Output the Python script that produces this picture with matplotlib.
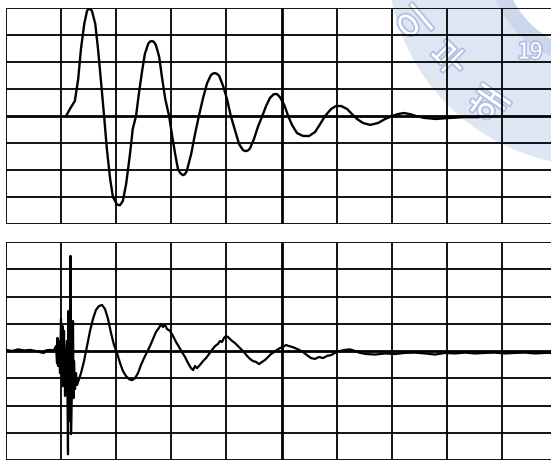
import matplotlib
matplotlib.use("Agg")
import matplotlib.pyplot as plt
from matplotlib.patches import Wedge
import matplotlib.patheffects as pe

plt.rcParams['font.family'] = ['Noto Sans CJK KR', 'DejaVu Sans']

# time in tenths of a division, amplitude in divisions
t_top = [10.9, 11.6, 12.5, 13.1, 13.6, 14.2, 14.7, 14.9, 15.1, 15.35, 15.6, 16.2, 16.7, 17.2, 17.8,
         18.3, 18.9, 19.4, 20.1, 20.4, 20.7, 21.2, 21.8, 22.5, 23.0, 23.6, 24.1, 24.7, 25.2,
         25.8, 26.1, 26.5, 26.85, 27.2, 27.8, 28.3, 28.9, 29.6, 30.1, 30.7, 31.2, 31.6, 32.1,
         32.45, 32.8, 33.6, 34.3, 35.0, 35.8, 36.5, 37.2, 37.55, 37.9, 38.3, 38.7, 39.4, 40.1,
         40.8, 41.6, 42.3, 43.0, 43.3, 43.6, 43.95, 44.3, 45.0, 45.7, 46.5, 47.2, 47.9, 48.6,
         49.2, 49.7, 50.5, 51.2, 51.9, 52.8, 53.9, 55.0, 56.1, 57.0, 57.9, 59.0, 59.9, 60.8,
         61.9, 62.8, 63.7, 64.8, 66.1, 67.5, 68.8, 70.1, 71.1, 72.2, 73.3, 74.4, 75.9, 78.0,
         80.6, 83.3, 85.7]
v_top = [0.0, 0.26, 0.56, 1.37, 2.48, 3.41, 3.89, 3.95, 3.97, 3.95, 3.89, 3.41, 2.48, 1.37, 0.0,
         -1.22, -2.33, -3.0, -3.26, -3.30, -3.30, -3.15, -2.52, -1.41, -0.48, 0.0, 0.81, 1.67, 2.30,
         2.67, 2.75, 2.78, 2.74, 2.63, 2.19, 1.44, 0.63, 0.0, -0.67, -1.41, -1.96, -2.11, -2.19,
         -2.16, -2.04, -1.41, -0.67, 0.0, 0.70, 1.22, 1.52, 1.57, 1.59, 1.56, 1.48, 1.11, 0.63,
         0.0, -0.56, -1.04, -1.26, -1.29, -1.30, -1.27, -1.19, -0.85, -0.41, 0.0, 0.37, 0.67, 0.81,
         0.81, 0.70, 0.41, 0.0, -0.33, -0.63, -0.74, -0.74, -0.59, -0.30, 0.0, 0.26, 0.37, 0.37,
         0.26, 0.07, -0.11, -0.26, -0.33, -0.26, -0.11, 0.0, 0.07, 0.11, 0.07, 0.0, -0.07, -0.11,
         -0.07, -0.04, -0.04]

t_bot = [0.0, 1.1, 2.2, 3.3, 4.4, 5.4, 6.5, 6.9, 7.2, 8.0, 8.7,
         9.07, 9.26, 9.35, 9.44, 9.62, 9.80, 9.98, 10.16, 10.25, 10.34, 10.53, 10.71, 10.89,
         11.07, 11.25, 11.34, 11.43, 11.62, 11.71, 11.80, 11.98, 12.16, 12.25, 12.34, 12.52,
         12.70, 12.89, 13.25, 13.61, 14.16, 14.70, 15.25, 15.79, 16.33, 16.88, 17.42, 17.97,
         18.51, 19.06, 19.60, 20.15, 20.69, 21.23, 21.78, 22.32, 22.87, 23.41, 23.96, 24.50,
         25.05, 25.59, 26.13, 26.68, 27.22, 27.77, 28.13, 28.49, 28.86, 29.22, 29.76, 30.31,
         30.85, 31.40, 31.94, 32.49, 33.03, 33.58, 33.94, 34.30, 34.66, 35.21, 35.75, 36.30,
         36.84, 37.39, 37.93, 38.48, 38.84, 39.20, 39.56, 39.93, 40.29, 40.65, 41.02, 41.56,
         42.11, 42.65, 43.19, 43.74, 44.28, 44.83, 45.37, 45.92, 46.46, 47.01, 47.55, 48.09,
         48.64, 49.18, 49.73, 50.27, 50.82, 51.36, 51.91, 52.45, 53.18, 53.90, 54.63, 55.35,
         56.08, 56.81, 57.53, 58.26, 58.98, 59.71, 60.62, 61.52, 62.43, 63.34, 64.25, 65.34,
         66.97, 68.78, 70.60, 72.41, 74.23, 76.04, 77.86, 79.67, 81.49, 83.30, 85.12, 86.93,
         88.75, 90.56, 92.38, 94.19, 96.01, 97.82, 98.9]
v_bot = [0.04, 0.0, 0.06, 0.02, 0.04, 0.0, -0.06, -0.07, 0.02, 0.04, 0.02,
         0.18, -0.44, 0.48, -0.55, 0.37, -0.81, 1.18, -1.03, 0.92, -1.29, 0.74, -1.65, -0.37,
         0.37, -3.79, 1.47, -2.57, -1.84, 3.49, -3.05, -1.10, 1.10, -1.73, -0.37, -1.40,
         -0.81, -1.25, -1.03, -0.81, -0.37, 0.18, 0.74, 1.18, 1.51, 1.65, 1.69, 1.54,
         1.18, 0.66, 0.22, -0.07, -0.44, -0.74, -0.92, -1.03, -1.07, -1.0, -0.81, -0.51,
         -0.26, -0.04, 0.18, 0.44, 0.70, 0.85, 0.99, 0.88, 0.96, 0.81, 0.74, 0.55,
         0.33, 0.15, -0.04, -0.22, -0.44, -0.63, -0.70, -0.55, -0.63, -0.51, -0.37, -0.26,
         -0.11, 0.04, 0.18, 0.26, 0.37, 0.33, 0.48, 0.55, 0.51, 0.44, 0.37, 0.29,
         0.18, 0.07, -0.04, -0.18, -0.29, -0.37, -0.40, -0.48, -0.40, -0.33, -0.22, -0.11,
         -0.04, 0.04, 0.11, 0.15, 0.22, 0.18, 0.15, 0.11, 0.04, -0.04, -0.15, -0.26,
         -0.29, -0.22, -0.26, -0.18, -0.15, -0.07, 0.0, 0.04, 0.06, 0.0, -0.07, -0.11,
         -0.13, -0.09, -0.11, -0.07, -0.06, -0.09, -0.13, -0.07, -0.09, -0.06, -0.09, -0.07,
         -0.06, -0.09, -0.07, -0.06, -0.09, -0.07, -0.07]

x_grid = [0, 10, 20, 30, 40, 50, 60, 70, 80, 90]
y_grid = [-4, -3, -2, -1, 0, 1, 2, 3, 4]

watermark_text = ['이', '부', '해', '19']

W, H = 551, 463
fig = plt.figure(figsize=(W / 100, H / 100), dpi=100)

# faint watermark seal in the background
bg = fig.add_axes([0, 0, 1, 1], zorder=0)
bg.set_xlim(0, W)
bg.set_ylim(H, 0)
bg.axis('off')
bg.add_patch(Wedge((595, -42), 208, 90, 270, width=100, facecolor='#dfe6f3',
                   edgecolor='none'))
bg.add_patch(Wedge((595, -42), 108, 90, 270, width=16, facecolor='#cdd7ec',
                   edgecolor='none'))
for s, (x, y, r, fs) in zip(watermark_text,
                            [(416, 26, 40, 26), (452, 60, 45, 26),
                             (492, 106, 55, 28), (530, 52, 0, 16)]):
    bg.text(x, y, s, color='white', fontsize=fs, rotation=r,
            ha='center', va='center',
            path_effects=[pe.withStroke(linewidth=2.5, foreground='#aebfe0')])


def panel(rect, t, v, lw):
    ax = fig.add_axes(rect, zorder=1)
    ax.set_facecolor('none')
    ax.set_xlim(0, 98.9)
    ax.set_ylim(-4, 4)
    for s in ax.spines.values():
        s.set_visible(False)
    ax.set_xticks([])
    ax.set_yticks([])
    for xg in x_grid:
        ax.axvline(xg, color='black', lw=2.0 if xg == 50 else 1.3, zorder=1)
    for yg in y_grid:
        ax.axhline(yg, color='black', lw=2.0 if yg == 0 else 1.3, zorder=1)
    ax.plot(t, v, color='black', lw=lw, zorder=3, solid_joinstyle='round')
    return ax


panel([6 / W, (H - 224) / H, (W - 6) / W, 216 / H], t_top, v_top, 1.7)
panel([6 / W, (H - 460) / H, (W - 6) / W, 218 / H], t_bot, v_bot, 1.6)

fig.savefig('out.png', dpi=100, facecolor='white')
